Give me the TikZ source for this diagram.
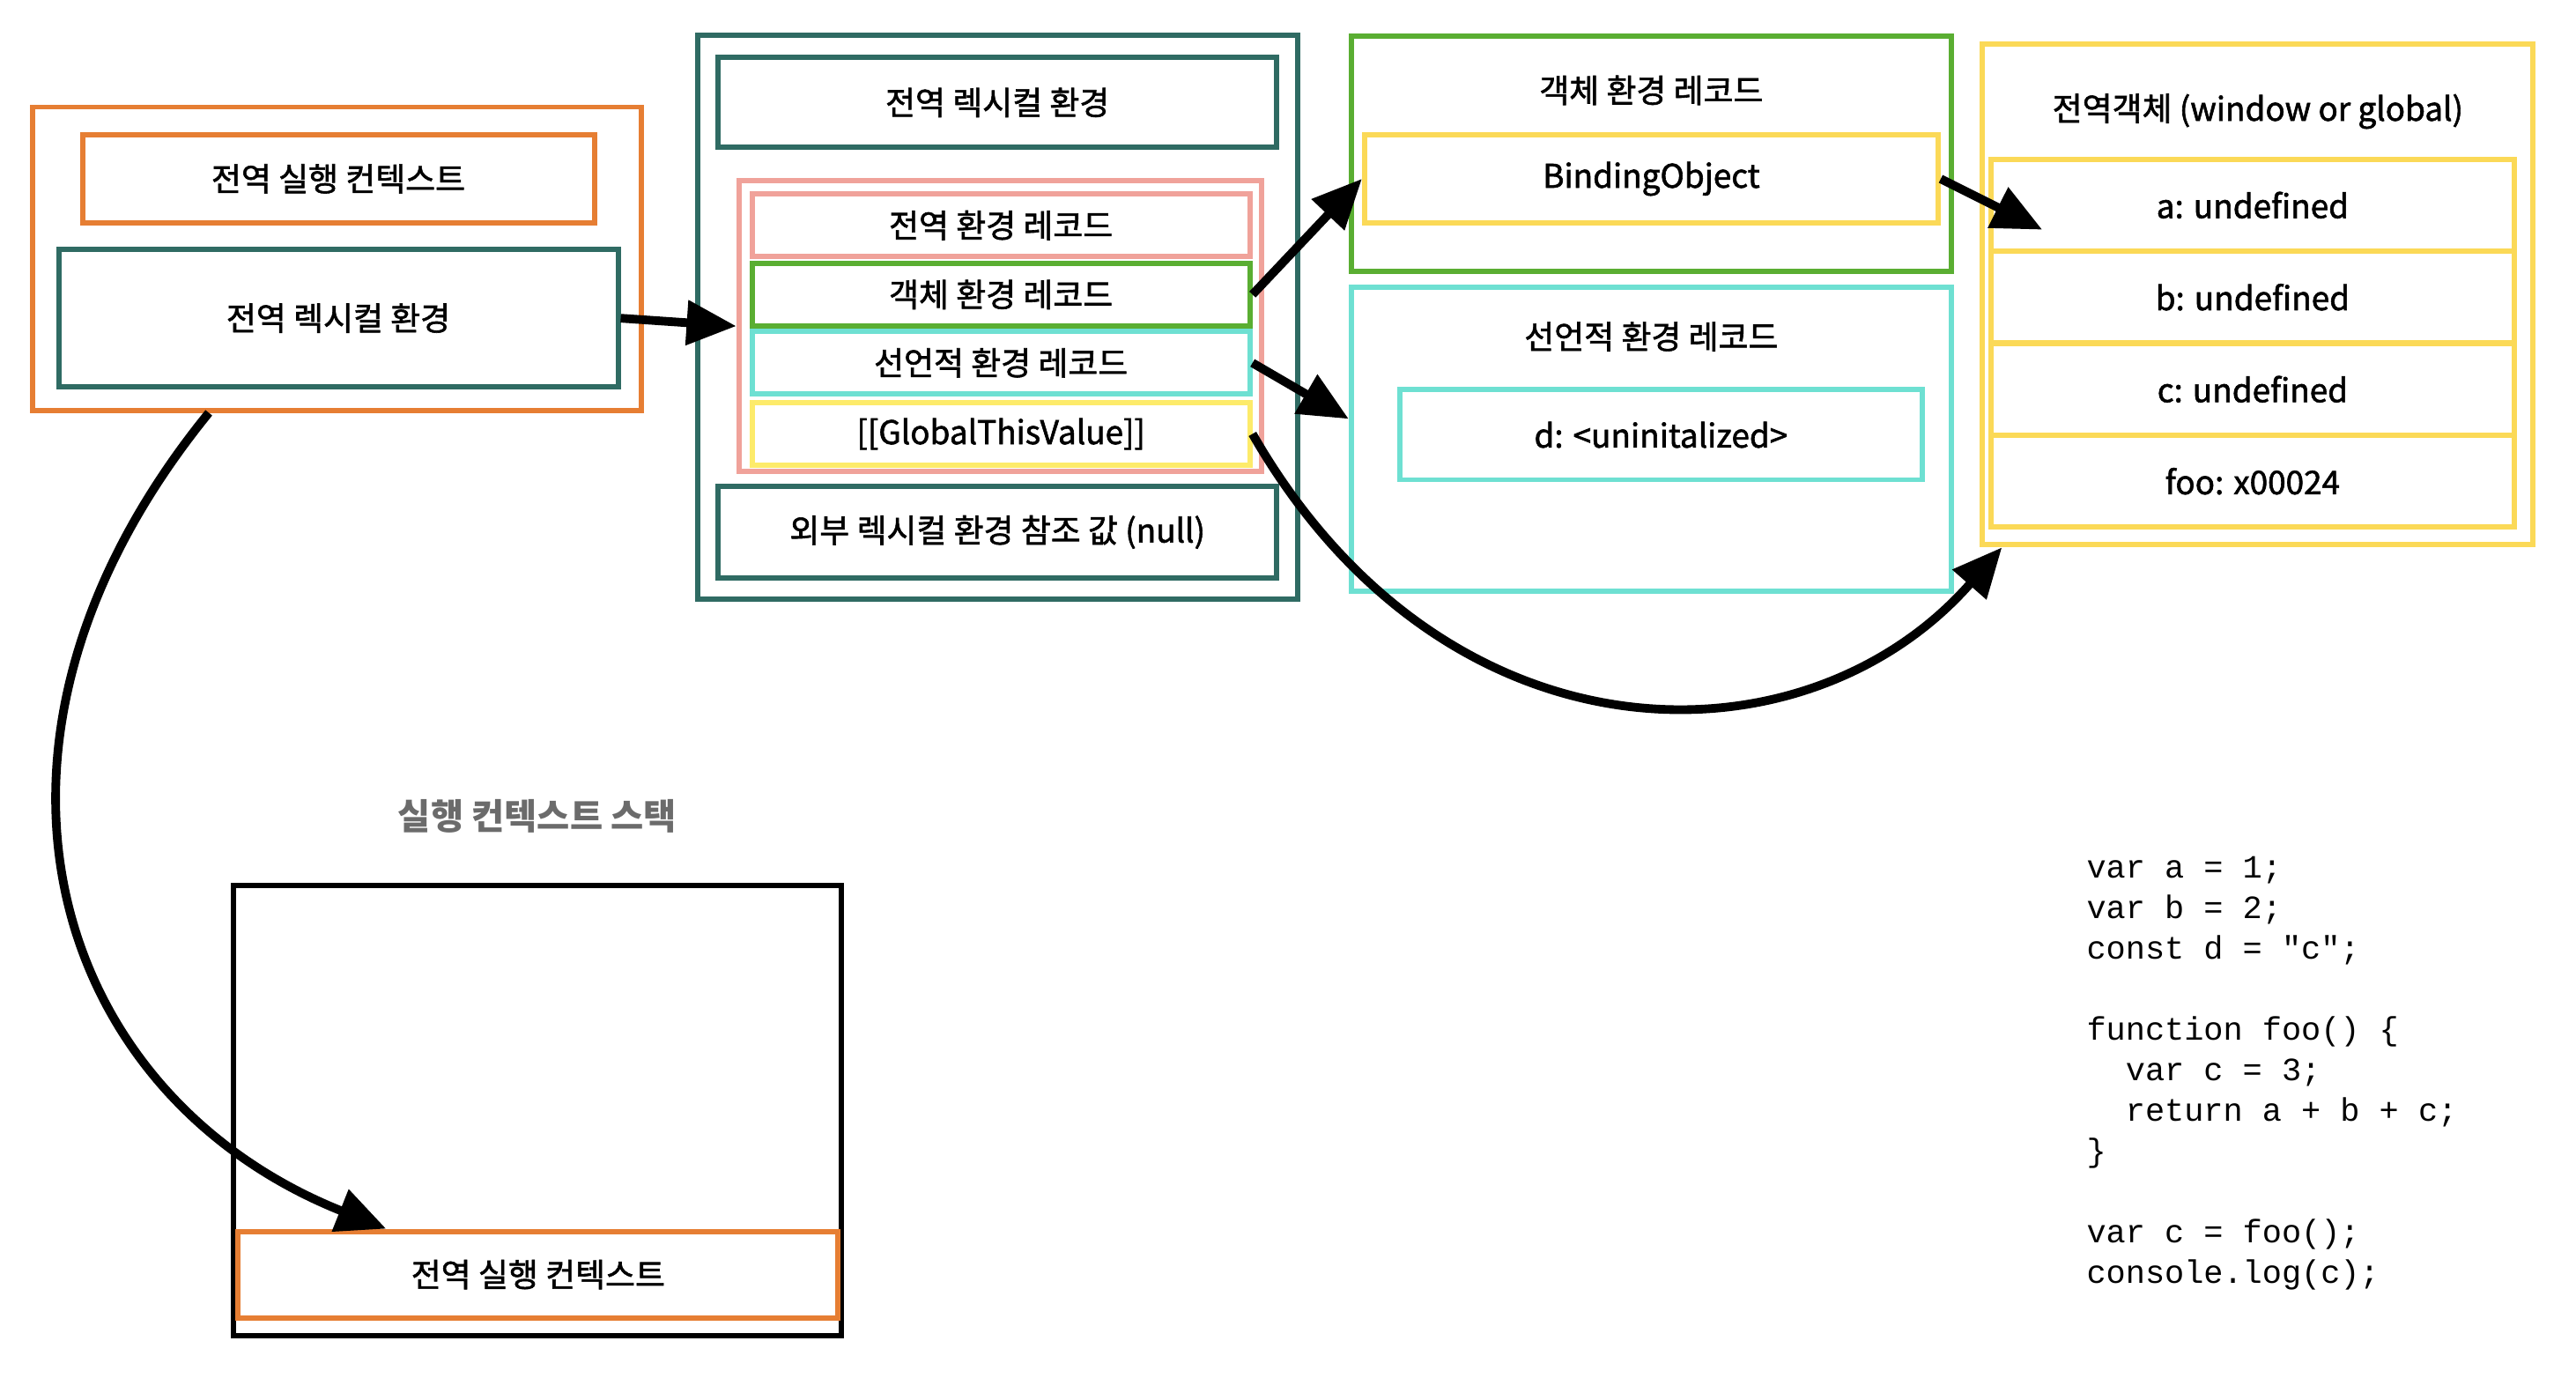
\documentclass[tikz,border=0pt]{standalone}
\usepackage{fontspec}
\setmainfont{Noto Sans CJK KR}
\setmonofont{Liberation Mono}
\newfontfamily\boxfont{Noto Sans CJK KR}[FakeBold=1.6]
\usetikzlibrary{arrows.meta}

\definecolor{ecorange}{HTML}{E67E33}
\definecolor{lexteal}{HTML}{2F6B63}
\definecolor{recpink}{HTML}{F0A29A}
\definecolor{objgreen}{HTML}{5AAE32}
\definecolor{declcyan}{HTML}{6EE0D2}
\definecolor{gtvyellow}{HTML}{FDEB6A}
\definecolor{gobjyellow}{HTML}{FBD957}
\definecolor{titlegray}{HTML}{6B6B6B}

\begin{document}
\begin{tikzpicture}[x=0.00995cm,y=-0.00995cm,
  box/.style={draw,line width=1.7pt,inner sep=0pt},
  lbl/.style={font=\boxfont\fontsize{10.5pt}{12pt}\selectfont},
  link/.style={line width=2.8pt,-{Triangle[length=16pt,width=14pt]}}]

  \useasboundingbox (0,0) rectangle (2939,1572);

  % execution context
  \node[box,draw=ecorange,minimum width=6.91cm,minimum height=3.44cm] (ec) at (384,295) {};
  \node[box,draw=ecorange,minimum width=5.81cm,minimum height=1.00cm,lbl] (ecname) at (386,204) {전역 실행 컨텍스트};
  \node[box,draw=lexteal,minimum width=6.35cm,minimum height=1.56cm,lbl] (ecenv) at (386,363) {전역 렉시컬 환경};

  % lexical environment
  \node[box,draw=lexteal,minimum width=6.81cm,minimum height=6.40cm] (lex) at (1138,362) {};
  \node[box,draw=lexteal,minimum width=6.34cm,minimum height=1.02cm,lbl] (lextitle) at (1138,117) {전역 렉시컬 환경};
  \node[box,draw=recpink,minimum width=5.93cm,minimum height=3.30cm] (ger) at (1141,372) {};
  \node[box,draw=recpink,minimum width=5.65cm,minimum height=0.71cm,lbl] (gername) at (1142,257) {전역 환경 레코드};
  \node[box,draw=objgreen,minimum width=5.65cm,minimum height=0.71cm,lbl] (obj) at (1142,336) {객체 환경 레코드};
  \node[box,draw=declcyan,minimum width=5.65cm,minimum height=0.71cm,lbl] (decl) at (1142,414) {선언적 환경 레코드};
  \node[box,draw=gtvyellow,minimum width=5.65cm,minimum height=0.71cm,lbl] (gtv) at (1142,495) {[[GlobalThisValue]]};
  \node[box,draw=lexteal,minimum width=6.34cm,minimum height=1.04cm,lbl] (outer) at (1138,607) {외부 렉시컬 환경 참조 값 (null)};

  % object record
  \node[box,draw=objgreen,minimum width=6.81cm,minimum height=2.67cm] (objrec) at (1884,175) {};
  \node[lbl] (objtitle) at (1884,103) {객체 환경 레코드};
  \node[box,draw=gobjyellow,minimum width=6.51cm,minimum height=1.00cm,lbl] (bind) at (1884,204) {BindingObject};

  % declarative record
  \node[box,draw=declcyan,minimum width=6.81cm,minimum height=3.45cm] (declrec) at (1884,501) {};
  \node[lbl] (decltitle) at (1884,384) {선언적 환경 레코드};
  \node[box,draw=declcyan,minimum width=5.93cm,minimum height=1.02cm,lbl] (dval) at (1895,496) {d: <uninitalized>};

  % global object
  \node[box,draw=gobjyellow,minimum width=6.25cm,minimum height=5.68cm] (gobj) at (2576,336) {};
  \node[lbl] (gobjtitle) at (2576,127) {전역객체 (window or global)};
  \foreach \name/\txt [count=\i] in {a/a: undefined,b/b: undefined,c/c: undefined,foo/foo: x00024}
    \node[box,draw=gobjyellow,minimum width=5.94cm,minimum height=1.04cm,lbl] (\name) at (2570,129+105*\i) {\txt};
  \coordinate (atip) at (2330,262);

  % stack
  \node[font=\fontsize{11.5pt}{13pt}\selectfont\bfseries,text=titlegray] (stacktitle) at (613,931) {실행 컨텍스트 스택};
  \node[box,draw=black,minimum width=6.90cm,minimum height=5.11cm] (stack) at (613,1267) {};
  \node[box,draw=ecorange,minimum width=6.81cm,minimum height=0.98cm,lbl] (item) at (614,1454) {전역 실행 컨텍스트};

  % code
  \node[anchor=north west,inner sep=0pt,align=left,font=\ttfamily\fontsize{10.5pt}{13.1pt}\selectfont] (code) at (2380,976)
    {var a = 1;\\var b = 2;\\const d = "c";\\\mbox{}\\function foo() \{\\\phantom{xx}var c = 3;\\\phantom{xx}return a + b + c;\\\}\\\mbox{}\\var c = foo();\\console.log(c);};

  % links
  \draw[link] (ecenv.east) -- (ger.west);
  \draw[link] (obj.east) -- (bind.west);
  \draw[link] (decl.east) -- ([yshift=0.23cm]declrec.west);
  \draw[link] (bind.east) -- (atip);
  \draw[link] (gtv.east) .. controls (1650,880) and (2060,880) .. ([xshift=0.25cm]gobj.south west);
  \draw[link] ([xshift=-1.45cm]ec.south) .. controls (-70,850) and (60,1250) .. ([xshift=1.71cm]item.north west);
\end{tikzpicture}
\end{document}
